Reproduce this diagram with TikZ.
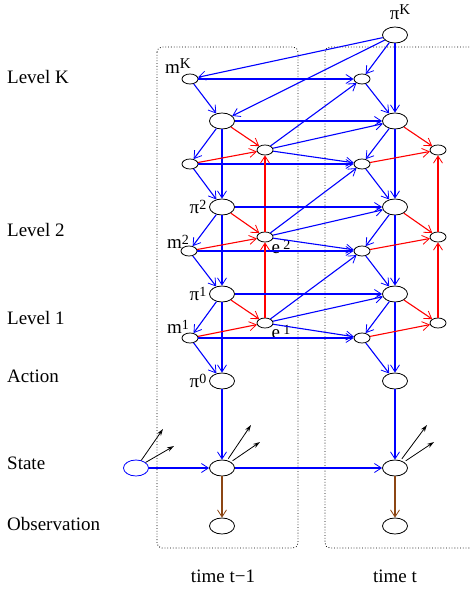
\documentclass[tikz,border=0pt]{standalone}
\usepackage{fontspec}
\setmainfont{Liberation Serif}
\usetikzlibrary{shapes.geometric, arrows.meta}
\definecolor{linkblue}{RGB}{0,0,255}
\definecolor{linkred}{RGB}{255,0,0}
\definecolor{obsbrown}{RGB}{140,70,20}

\begin{document}
\begin{tikzpicture}[x=1pt, y=-1pt,
    big/.style={ellipse, draw, line width=0.8pt, minimum width=25pt, minimum height=16pt, inner sep=0pt},
    small/.style={ellipse, draw, line width=0.8pt, minimum width=16pt, minimum height=10pt, inner sep=0pt},
    lvl/.style={anchor=west, inner sep=0pt, font=\fontsize{19}{22}\selectfont},
    sym/.style={inner sep=0pt, font=\fontsize{19}{22}\selectfont},
    blink/.style={draw=linkblue, line width=1.1pt, -{Straight Barb[length=7pt, width=9pt, line width=0.8pt]}},
    rlink/.style={blink, draw=linkred},
    olink/.style={blink, draw=obsbrown},
    klink/.style={draw=black, line width=0.8pt, -{Stealth[open, length=7pt, width=4.5pt]}},
    timebox/.style={dotted, line width=0.8pt, rounded corners=5pt}
]
\useasboundingbox (0,0) rectangle (469,593);

\draw[timebox] (157,47) rectangle (298,548);
\draw[timebox] (472,47) -- (325,47) -- (325,548) -- (472,548);

\node[lvl] (lvK) at (7,77) {Level K};
\node[lvl] (lv2) at (7,230) {Level 2};
\node[lvl] (lv1) at (7,318) {Level 1};
\node[lvl] (lvA) at (7,376) {Action};
\node[lvl] (lvS) at (7,463) {State};
\node[lvl] (lvO) at (7,524) {Observation};
\node[sym] (tA) at (223,576) {time t−1};
\node[sym] (tB) at (395,576) {time t};

\node[big] (piTop) at (395,35) {};
\node[small] (mKa) at (190,79) {};
\node[small] (mKb) at (362,79) {};
\node[big] (piKa) at (222,121) {};
\node[big] (piKb) at (395,121) {};
\node[small] (eKa) at (265,150) {};
\node[small] (eKb) at (438,150) {};
\node[small] (m3a) at (190,164) {};
\node[small] (m3b) at (362,164) {};
\node[big] (pi2a) at (222,207) {};
\node[big] (pi2b) at (395,207) {};
\node[small] (e2a) at (265,237) {};
\node[small] (e2b) at (438,237) {};
\node[small] (m2a) at (189,251) {};
\node[small] (m2b) at (362,251) {};
\node[big] (pi1a) at (222,294) {};
\node[big] (pi1b) at (395,294) {};
\node[small] (e1a) at (265,323) {};
\node[small] (e1b) at (438,323) {};
\node[small] (m1a) at (190,338) {};
\node[small] (m1b) at (362,338) {};
\node[big] (pi0a) at (222,381) {};
\node[big] (pi0b) at (395,381) {};
\node[big, draw=linkblue] (s0) at (136,468) {};
\node[big] (sa) at (222,468) {};
\node[big] (sb) at (395,468) {};
\node[big] (oa) at (222,526) {};
\node[big] (ob) at (395,526) {};

\node[sym] (piTopTxt) at (400,12) {π\raisebox{0.55ex}{\fontsize{15}{15}\selectfont K}};
\node[sym] (mKTxt) at (178,66) {m\raisebox{0.55ex}{\fontsize{15}{15}\selectfont K}};
\node[sym] (pi2Txt) at (198,207) {π\raisebox{0.5ex}{\fontsize{14}{14}\selectfont 2}};
\node[sym] (m2Txt) at (178,242) {m\raisebox{0.5ex}{\fontsize{14}{14}\selectfont 2}};
\node[sym] (e2Txt) at (281,247) {e\,\raisebox{0.5ex}{\fontsize{14}{14}\selectfont 2}};
\node[sym] (pi1Txt) at (198,294) {π\raisebox{0.5ex}{\fontsize{14}{14}\selectfont 1}};
\node[sym] (m1Txt) at (178,327) {m\raisebox{0.5ex}{\fontsize{14}{14}\selectfont 1}};
\node[sym] (e1Txt) at (281,332) {e\,\raisebox{0.5ex}{\fontsize{14}{14}\selectfont 1}};
\node[sym] (pi0Txt) at (198,381) {π\raisebox{0.5ex}{\fontsize{14}{14}\selectfont 0}};

\coordinate (s0up) at (163,429);
\coordinate (s0rt) at (174,446);
\coordinate (saup) at (251,425);
\coordinate (sart) at (260,442);
\coordinate (sbup) at (427,425);
\coordinate (sbrt) at (434,442);

\draw[blink] (piTop) -- (mKa);
\draw[blink] (piTop) -- (piKa);
\draw[blink] (piTop) -- (mKb);
\draw[blink] (piTop) -- (piKb);
\draw[blink] (mKa) -- (mKb);
\draw[blink] (mKa) -- (piKa);
\draw[blink] (mKb) -- (piKb);
\draw[blink] (piKa) -- (piKb);
\draw[blink] (piKa) -- (m3a);
\draw[blink] (piKa) -- (pi2a);
\draw[blink] (piKb) -- (m3b);
\draw[blink] (piKb) -- (pi2b);
\draw[blink] (m3a) -- (m3b);
\draw[blink] (m3a) -- (pi2a);
\draw[blink] (m3b) -- (pi2b);
\draw[blink] (eKa) -- (mKb);
\draw[blink] (eKa) -- (piKb);
\draw[blink] (eKa) -- (m3b);
\draw[rlink] (piKa) -- (eKa);
\draw[rlink] (m3a) -- (eKa);
\draw[rlink] (e2a) -- (eKa);
\draw[rlink] (piKb) -- (eKb);
\draw[rlink] (m3b) -- (eKb);
\draw[rlink] (e2b) -- (eKb);

\draw[blink] (pi2a) -- (pi2b);
\draw[blink] (pi2a) -- (m2a);
\draw[blink] (pi2a) -- (pi1a);
\draw[blink] (pi2b) -- (m2b);
\draw[blink] (pi2b) -- (pi1b);
\draw[blink] (m2a) -- (m2b);
\draw[blink] (m2a) -- (pi1a);
\draw[blink] (m2b) -- (pi1b);
\draw[blink] (e2a) -- (m3b);
\draw[blink] (e2a) -- (pi2b);
\draw[blink] (e2a) -- (m2b);
\draw[rlink] (pi2a) -- (e2a);
\draw[rlink] (m2a) -- (e2a);
\draw[rlink] (e1a) -- (e2a);
\draw[rlink] (pi2b) -- (e2b);
\draw[rlink] (m2b) -- (e2b);
\draw[rlink] (e1b) -- (e2b);

\draw[blink] (pi1a) -- (pi1b);
\draw[blink] (pi1a) -- (m1a);
\draw[blink] (pi1a) -- (pi0a);
\draw[blink] (pi1b) -- (m1b);
\draw[blink] (pi1b) -- (pi0b);
\draw[blink] (m1a) -- (m1b);
\draw[blink] (m1a) -- (pi0a);
\draw[blink] (m1b) -- (pi0b);
\draw[blink] (e1a) -- (m2b);
\draw[blink] (e1a) -- (pi1b);
\draw[blink] (e1a) -- (m1b);
\draw[rlink] (pi1a) -- (e1a);
\draw[rlink] (m1a) -- (e1a);
\draw[rlink] (pi1b) -- (e1b);
\draw[rlink] (m1b) -- (e1b);

\draw[blink] (pi0a) -- (sa);
\draw[blink] (pi0b) -- (sb);
\draw[blink] (s0) -- (sa);
\draw[blink] (sa) -- (sb);
\draw[olink] (sa) -- (oa);
\draw[olink] (sb) -- (ob);
\draw[klink] (s0) -- (s0up);
\draw[klink] (s0) -- (s0rt);
\draw[klink, shorten <=2pt] (sa) -- (saup);
\draw[klink, shorten <=2pt] (sa) -- (sart);
\draw[klink, shorten <=2pt] (sb) -- (sbup);
\draw[klink, shorten <=2pt] (sb) -- (sbrt);

\end{tikzpicture}
\end{document}
